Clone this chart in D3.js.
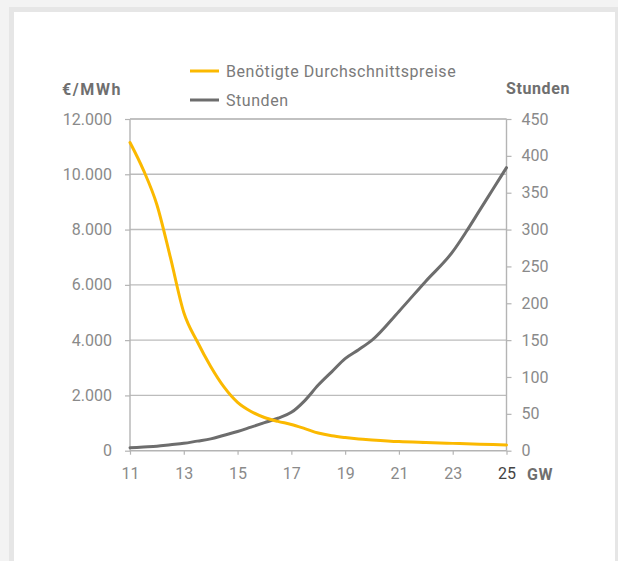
<!DOCTYPE html>
<html>
<head>
<meta charset="utf-8">
<script src="https://cdn.jsdelivr.net/npm/d3@7"></script>
<style>
  html, body { margin: 0; padding: 0; background: #f3f3f3; }
  svg { display: block; }
  text { font-family: Roboto, "DejaVu Sans", sans-serif; }
</style>
</head>
<body>
<svg id="chart" width="618" height="561"></svg>
<script>
// Installed capacity (GW)
const capacityGW = [11, 11.5, 12, 12.5, 13, 13.5, 14, 14.5, 15, 15.5, 16, 16.5, 17, 17.5, 18, 18.5, 19, 19.5, 20, 21, 22, 23, 23.5, 24, 24.5, 25];
// Required average price (€/MWh)
const avgPrice = [11150, 10150, 8900, 7000, 5000, 3950, 3050, 2300, 1750, 1420, 1200, 1060, 950, 800, 640, 540, 475, 425, 390, 330, 295, 265, 250, 235, 220, 205];
// Hours per year
const hours = [4, 5, 6, 8, 10, 13, 16, 21, 26, 32, 38, 44, 52, 68, 89, 107, 125, 137, 150, 189, 230, 270, 297, 326, 355, 384];

const xTicks = [11, 13, 15, 17, 19, 21, 23, 25];
const leftTicks = [0, 2000, 4000, 6000, 8000, 10000, 12000];
const rightTicks = [0, 50, 100, 150, 200, 250, 300, 350, 400, 450];

const seriesNames = ["Benötigte Durchschnittspreise", "Stunden"];
const seriesColors = ["#fbb900", "#6d6d6d"];

const svg = d3.select("#chart");

// card frame
svg.append("rect").attr("x", 9).attr("y", 7).attr("width", 620).attr("height", 570).attr("fill", "#e6e6e6");
svg.append("rect").attr("x", 14).attr("y", 12).attr("width", 601).attr("height", 560).attr("fill", "#ffffff");

const plot = { left: 130, right: 506.5, top: 119, bottom: 450.7 };

const x = d3.scaleLinear().domain([11, 25]).range([plot.left, plot.right]);
const yL = d3.scaleLinear().domain([0, 12000]).range([plot.bottom, plot.top]);
const yR = d3.scaleLinear().domain([0, 450]).range([plot.bottom, plot.top]);

const fmt = v => d3.format(",")(v).replace(/,/g, ".");
const tickColor = "#8a8a8a";
const axisColor = "#b4b4b4";

// horizontal gridlines
svg.append("g").selectAll("line").data(leftTicks.filter(d => d > 0)).join("line")
  .attr("x1", plot.left).attr("x2", plot.right)
  .attr("y1", d => yL(d)).attr("y2", d => yL(d))
  .attr("stroke", "#bcbcbc").attr("stroke-width", 1.4);

function styleAxis(g) {
  g.select(".domain").remove();
  g.selectAll(".tick line").attr("stroke", axisColor).attr("stroke-width", 1.2);
  g.selectAll(".tick text").attr("fill", tickColor).attr("font-size", 16).attr("font-family", "Roboto, sans-serif");
}

// left axis
const gL = svg.append("g").attr("transform", `translate(${plot.left},0)`)
  .call(d3.axisLeft(yL).tickValues(leftTicks).tickFormat(fmt).tickSize(5).tickPadding(13));
styleAxis(gL);

// right axis
const gR = svg.append("g").attr("transform", `translate(${plot.right},0)`)
  .call(d3.axisRight(yR).tickValues(rightTicks).tickSize(5).tickPadding(10));
styleAxis(gR);

// bottom axis
const gB = svg.append("g").attr("transform", `translate(0,${plot.bottom})`)
  .call(d3.axisBottom(x).tickValues(xTicks).tickSize(4).tickPadding(13));
styleAxis(gB);
gB.selectAll(".tick text").filter(d => d === 25).attr("fill", "#444444");

// axis lines
svg.append("line").attr("x1", plot.left).attr("x2", plot.left).attr("y1", plot.top).attr("y2", plot.bottom)
  .attr("stroke", axisColor).attr("stroke-width", 1.4);
svg.append("line").attr("x1", plot.right).attr("x2", plot.right).attr("y1", plot.top).attr("y2", plot.bottom)
  .attr("stroke", axisColor).attr("stroke-width", 1.4);
svg.append("line").attr("x1", plot.left).attr("x2", plot.right).attr("y1", plot.bottom).attr("y2", plot.bottom)
  .attr("stroke", axisColor).attr("stroke-width", 1.4);
svg.append("line").attr("x1", plot.left).attr("x2", plot.right).attr("y1", plot.top).attr("y2", plot.top)
  .attr("stroke", "#bcbcbc").attr("stroke-width", 1.4);

// series lines
const priceLine = d3.line().x((d, i) => x(capacityGW[i])).y(d => yL(d)).curve(d3.curveMonotoneX);
const hoursLine = d3.line().x((d, i) => x(capacityGW[i])).y(d => yR(d)).curve(d3.curveMonotoneX);

svg.append("path").datum(hours).attr("d", hoursLine)
  .attr("fill", "none").attr("stroke", seriesColors[1]).attr("stroke-width", 3).attr("stroke-linecap", "round");
svg.append("path").datum(avgPrice).attr("d", priceLine)
  .attr("fill", "none").attr("stroke", seriesColors[0]).attr("stroke-width", 3).attr("stroke-linecap", "round");

// axis titles
svg.append("text").attr("x", 62).attr("y", 95).text("€/MWh")
  .attr("font-size", 16).attr("font-weight", "bold").attr("fill", "#6f6f6f").attr("letter-spacing", 1.6);
svg.append("text").attr("x", 570).attr("y", 94).attr("text-anchor", "end").text("Stunden")
  .attr("font-size", 16).attr("font-weight", "bold").attr("fill", "#6f6f6f").attr("letter-spacing", 0.6);
svg.append("text").attr("x", 527).attr("y", 480).text("GW")
  .attr("font-size", 16).attr("font-weight", "bold").attr("fill", "#6f6f6f").attr("letter-spacing", 0.6);

// legend
const legend = svg.append("g").selectAll("g").data(seriesNames).join("g")
  .attr("transform", (d, i) => `translate(190,${71 + i * 29})`);
legend.append("line").attr("x1", 0).attr("x2", 29).attr("y1", 0).attr("y2", 0)
  .attr("stroke", (d, i) => seriesColors[i]).attr("stroke-width", 3);
legend.append("text").attr("x", 36).attr("y", 0).attr("dy", "0.35em").text(d => d)
  .attr("font-size", 16).attr("fill", "#7a7a7a").attr("letter-spacing", 0.55);
</script>
</body>
</html>
